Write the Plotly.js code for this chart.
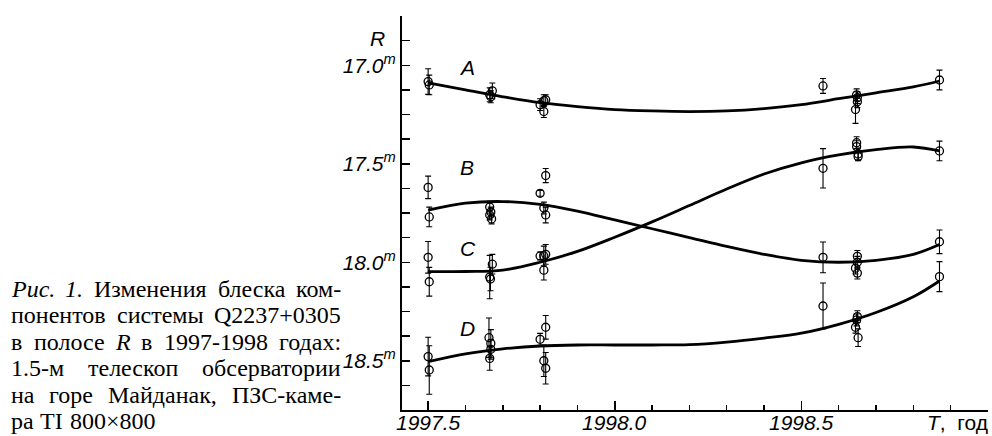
<!DOCTYPE html>
<html>
<head>
<meta charset="utf-8">
<script src="https://cdn.plot.ly/plotly-3.0.1.min.js"></script>
<style>
html,body{margin:0;padding:0;background:#fff;}
#chart{width:992px;height:436px;}
</style>
</head>
<body>
<div id="chart"></div>
<script>
// ---- observed magnitudes (component A) ----
const aT   = [1997.500, 1997.503, 1997.665, 1997.668, 1997.672, 1997.800, 1997.810, 1997.810, 1997.815, 1998.558, 1998.648, 1998.650, 1998.650, 1998.645, 1998.870];
const aR   = [17.083, 17.100, 17.150, 17.160, 17.130, 17.200, 17.180, 17.235, 17.175, 17.105, 17.150, 17.165, 17.185, 17.225, 17.075];
const aErr = [0.065, 0.050, 0.035, 0.030, 0.040, 0.030, 0.030, 0.030, 0.025, 0.038, 0.030, 0.030, 0.030, 0.070, 0.050];
// ---- component B ----
const bT   = [1997.500, 1997.503, 1997.665, 1997.668, 1997.665, 1997.670, 1997.815, 1997.800, 1997.810, 1997.815, 1998.558, 1998.650, 1998.650, 1998.645, 1998.650, 1998.870];
const bR   = [17.620, 17.770, 17.720, 17.745, 17.760, 17.780, 17.560, 17.650, 17.725, 17.760, 17.975, 17.970, 18.000, 18.030, 18.055, 17.896];
const bErr = [0.057, 0.050, 0.030, 0.025, 0.025, 0.025, 0.036, 0.015, 0.030, 0.040, 0.078, 0.030, 0.030, 0.030, 0.030, 0.060];
// ---- component C ----
const cT   = [1997.500, 1997.503, 1997.672, 1997.665, 1997.667, 1997.800, 1997.810, 1997.815, 1997.810, 1998.558, 1998.648, 1998.648, 1998.652, 1998.652, 1998.870];
const cR   = [17.975, 18.099, 18.010, 18.075, 18.085, 17.968, 17.968, 17.960, 18.040, 17.523, 17.393, 17.413, 17.450, 17.464, 17.435];
const cErr = [0.080, 0.073, 0.050, 0.110, 0.060, 0.020, 0.050, 0.050, 0.050, 0.100, 0.030, 0.030, 0.030, 0.020, 0.050];
// ---- component D ----
const dT   = [1997.500, 1997.503, 1997.663, 1997.668, 1997.668, 1997.665, 1997.800, 1997.815, 1997.810, 1997.815, 1998.558, 1998.650, 1998.648, 1998.645, 1998.652, 1998.870];
const dR   = [18.479, 18.547, 18.383, 18.412, 18.442, 18.488, 18.391, 18.330, 18.500, 18.538, 18.222, 18.276, 18.293, 18.330, 18.383, 18.073];
const dErr = [0.098, 0.123, 0.100, 0.070, 0.050, 0.060, 0.030, 0.060, 0.080, 0.080, 0.117, 0.030, 0.030, 0.030, 0.045, 0.076];

// ---- fitted curves ----
const fitT = [1997.50, 1997.60, 1997.70, 1997.80, 1997.90, 1998.00, 1998.10, 1998.20, 1998.30, 1998.40, 1998.50, 1998.60, 1998.70, 1998.80, 1998.87];
const fitA = [17.090, 17.125, 17.160, 17.190, 17.210, 17.225, 17.232, 17.235, 17.232, 17.220, 17.200, 17.170, 17.140, 17.110, 17.080];
const fitB = [17.735, 17.700, 17.692, 17.706, 17.740, 17.785, 17.830, 17.875, 17.920, 17.960, 17.990, 18.000, 17.990, 17.960, 17.910];
const fitC = [18.048, 18.047, 18.040, 18.000, 17.945, 17.873, 17.795, 17.712, 17.628, 17.552, 17.495, 17.455, 17.428, 17.415, 17.435];
const fitD = [18.505, 18.465, 18.440, 18.425, 18.420, 18.420, 18.420, 18.418, 18.405, 18.385, 18.360, 18.315, 18.255, 18.175, 18.095];

// ---- labels ----
const compNames = ['A', 'B', 'C', 'D'];
const compLabelT = [1997.604, 1997.604, 1997.606, 1997.606];
const compLabelR = [17.009, 17.520, 17.928, 18.334];
const xTickVals = [1997.5, 1998.0, 1998.5, 1999.0];
const xTickText = ['1997.5', '1998.0', '1998.5'];
const yTickVals = [17.0, 17.5, 18.0, 18.5];
const yTickText = ['17.0<sup>m</sup>', '17.5<sup>m</sup>', '18.0<sup>m</sup>', '18.5<sup>m</sup>'];
const captionLines = [
  [['Рис.', true], ['1.', true], ['Изменения', false], ['блеска', false], ['ком-', false]],
  [['понентов', false], ['системы', false], ['Q2237+0305', false]],
  [['в', false], ['полосе', false], ['R', true], ['в', false], ['1997-1998', false], ['годах:', false]],
  [['1.5-м', false], ['телескоп', false], ['обсерватории', false]],
  [['на', false], ['горе', false], ['Майданак,', false], ['ПЗС-каме-', false]],
  [['ра', false], ['TI', false], ['800×800', false]]
];

// ---- geometry ----
const W = 992, H = 436;
const M = {l: 402, r: 4, t: 16, b: 26};
const PW = W - M.l - M.r, PH = H - M.t - M.b;
const toPX = px => (px - M.l) / PW;
const toPY = py => (H - M.b - py) / PH;

const traces = [];
function addComp(t, r, e) {
  traces.push({
    x: t, y: r, type: 'scatter', mode: 'markers',
    marker: {symbol: 'circle-open', size: 8, color: '#000', line: {width: 1.3, color: '#000'}},
    error_y: {type: 'data', array: e, visible: true, color: '#000', thickness: 1.1, width: 3},
    hoverinfo: 'skip', showlegend: false
  });
}
addComp(aT, aR, aErr); addComp(bT, bR, bErr); addComp(cT, cR, cErr); addComp(dT, dR, dErr);
[fitA, fitB, fitC, fitD].forEach(f => traces.push({
  x: fitT, y: f, type: 'scatter', mode: 'lines',
  line: {color: '#000', width: 2.8, shape: 'spline', smoothing: 1},
  hoverinfo: 'skip', showlegend: false
}));

const sans = 'Liberation Sans, Arial, sans-serif';
const serif = 'Liberation Serif, Times New Roman, serif';
const annotations = [];
compNames.forEach((n, i) => annotations.push({
  x: compLabelT[i], y: compLabelR[i], xref: 'x', yref: 'y', text: '<i>' + n + '</i>',
  showarrow: false, font: {family: sans, size: 21, color: '#000'}
}));
// x tick labels
xTickText.forEach((t, i) => annotations.push({
  x: xTickVals[i], y: toPY(422.5), xref: 'x', yref: 'paper', xanchor: 'center', yanchor: 'middle',
  text: '<i>' + t + '</i>', showarrow: false, borderpad: 0,
  font: {family: sans, size: 21, color: '#000'}
}));
annotations.push({x: toPX(368), y: toPY(25), xref: 'paper', yref: 'paper', text: '<i>R</i>',
  showarrow: false, font: {family: sans, size: 21, color: '#000'}});
annotations.push({x: toPX(989), y: toPY(422.5), xref: 'paper', yref: 'paper', xanchor: 'right', yanchor: 'middle',
  text: '<i>T</i>,  год', showarrow: false, borderpad: 0, font: {family: sans, size: 21, color: '#000'}});

// caption, justified between capLeft and capRight
const capFont = 24, capLeft = 10, capRight = 340;
const capBase = [296, 322.5, 349, 375.5, 402, 428];
const cv = document.createElement('canvas').getContext('2d');
function measure(w, it) {
  cv.font = (it ? 'italic ' : '') + capFont + 'px "Liberation Serif"';
  return cv.measureText(w).width;
}
captionLines.forEach((line, li) => {
  const widths = line.map(([w, it]) => measure(w, it));
  const sum = widths.reduce((a, b) => a + b, 0);
  const justify = li < captionLines.length - 1 && line.length > 1;
  let gap = justify ? (capRight - capLeft - sum) / (line.length - 1) : measure(' ', false) * 1.1;
  if (gap < 4) gap = 4;
  let x = capLeft;
  line.forEach(([w, it], k) => {
    annotations.push({
      x: toPX(x), y: toPY(capBase[li] - 7.5), xref: 'paper', yref: 'paper',
      xanchor: 'left', yanchor: 'middle', borderpad: 0,
      text: it ? '<i>' + w + '</i>' : w, showarrow: false,
      font: {family: serif, size: capFont, color: '#000'}
    });
    x += widths[k] + gap;
  });
});

const layout = {
  width: W, height: H, margin: M,
  paper_bgcolor: '#fff', plot_bgcolor: '#fff', showlegend: false,
  xaxis: {
    range: [1997.43, 1999.0], automargin: false,
    showline: true, linecolor: '#000', linewidth: 2, mirror: false,
    showgrid: false, zeroline: false,
    tickmode: 'array', tickvals: xTickVals, showticklabels: false,
    ticks: 'inside', ticklen: 9, tickwidth: 1.5, tickcolor: '#000',
    minor: {dtick: 0.1, tick0: 1997.5, ticks: 'inside', ticklen: 5, tickwidth: 1.5, tickcolor: '#000', showgrid: false}
  },
  yaxis: {
    range: [18.75, 16.75], automargin: false,
    showline: true, linecolor: '#000', linewidth: 2, mirror: false,
    showgrid: false, zeroline: false,
    tickmode: 'array', tickvals: yTickVals, ticktext: yTickText,
    ticks: 'inside', ticklen: 8, tickwidth: 1.5, tickcolor: '#000',
    tickfont: {family: sans, size: 21, color: '#000', style: 'italic'},
    minor: {dtick: 0.125, tick0: 16.75, ticks: 'inside', ticklen: 8, tickwidth: 1.5, tickcolor: '#000', showgrid: false}
  },
  annotations: annotations
};

Plotly.newPlot('chart', traces, layout, {staticPlot: true, displayModeBar: false});
</script>
</body>
</html>
